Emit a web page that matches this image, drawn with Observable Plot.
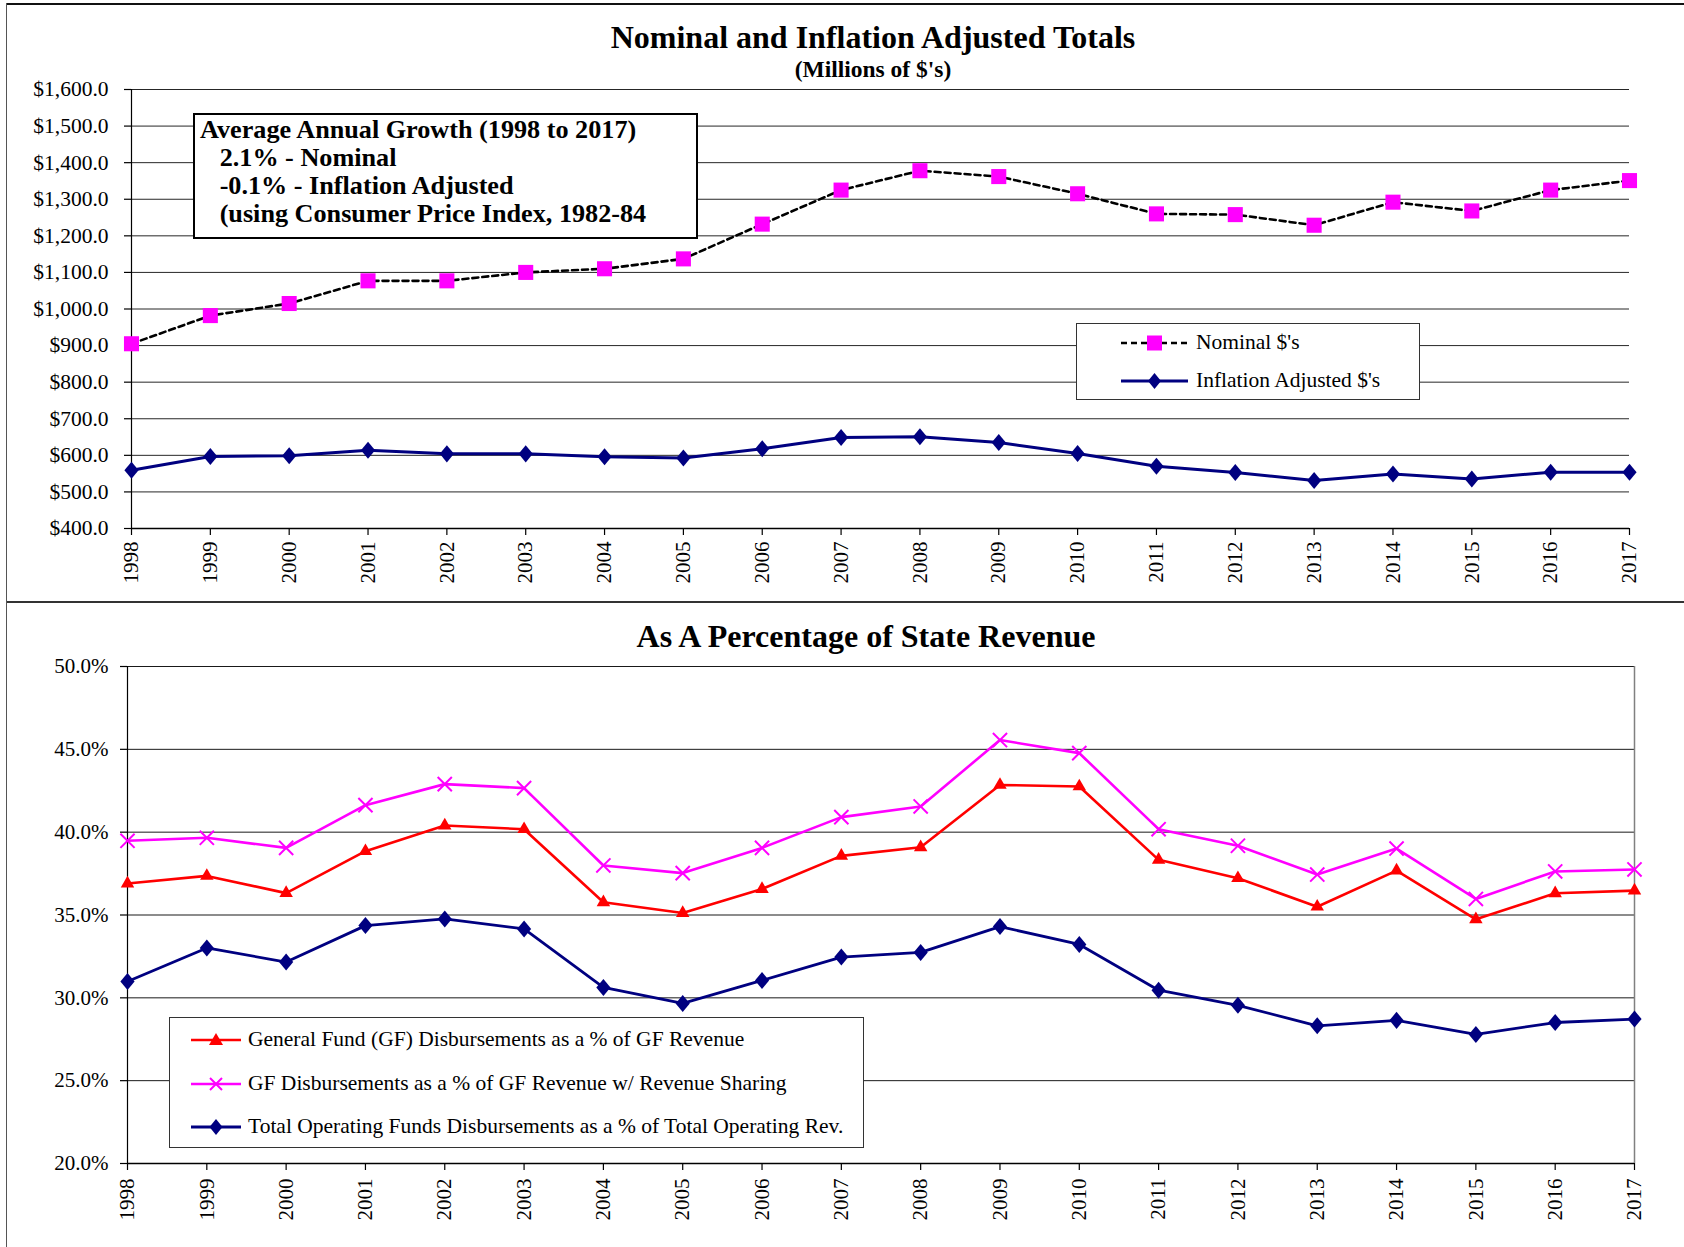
<!DOCTYPE html>
<html>
<head>
<meta charset="utf-8">
<script src="https://cdn.jsdelivr.net/npm/d3@7"></script>
<script src="https://cdn.jsdelivr.net/npm/@observablehq/plot@0.6"></script>
<style>
  body { margin: 0; background: #fff; }
  #page { position: relative; width: 1684px; height: 1247px; overflow: hidden; background: #fff;
          font-family: "Liberation Serif", "Times New Roman", serif; color: #000; }
  .abs { position: absolute; }
  .title { position: absolute; left: 0; text-align: center; font-weight: bold; white-space: nowrap; }
  .legend { position: absolute; background: #fff; border: 1px solid #333; box-sizing: border-box; }
  .entry { position: absolute; font-size: 21.5px; white-space: nowrap; line-height: 24px; }
  .note { position: absolute; background: #fff; border: 2px solid #000; box-sizing: border-box;
          font-weight: bold; font-size: 26.2px; line-height: 28px; white-space: pre; padding: 1px 0 0 5px; }
  svg.plot { position: absolute; left: 0; }
</style>
</head>
<body>
<div id="page"></div>
<script>
// ---------- data ----------
const years = [1998, 1999, 2000, 2001, 2002, 2003, 2004, 2005, 2006, 2007,
               2008, 2009, 2010, 2011, 2012, 2013, 2014, 2015, 2016, 2017];
const nominal = [905, 982, 1015, 1077, 1077, 1100, 1110, 1137, 1232, 1325,
                 1378, 1362, 1315, 1260, 1258, 1229, 1292, 1268, 1325, 1351];
const inflationAdjusted = [559, 597, 599, 614, 604, 604, 596, 593, 618, 649,
                           651, 635, 605, 570, 553, 531, 549, 535, 554, 554];
const gfPct = [36.90, 37.36, 36.32, 38.85, 40.40, 40.18, 35.77, 35.12, 36.57, 38.57,
               39.09, 42.85, 42.76, 38.33, 37.22, 35.50, 37.68, 34.74, 36.31, 36.47];
const gfRevSharingPct = [39.48, 39.66, 39.05, 41.63, 42.90, 42.66, 37.99, 37.53, 39.05, 40.91,
                         41.55, 45.56, 44.77, 40.18, 39.18, 37.44, 39.01, 35.97, 37.63, 37.75];
const totalOpPct = [30.99, 33.01, 32.16, 34.36, 34.76, 34.16, 30.63, 29.66, 31.05, 32.46,
                    32.74, 34.30, 33.22, 30.46, 29.55, 28.31, 28.64, 27.79, 28.51, 28.72];
const topYTicks = [400, 500, 600, 700, 800, 900, 1000, 1100, 1200, 1300, 1400, 1500, 1600];
const bottomYTicks = [20, 25, 30, 35, 40, 45, 50];

const topTitle = "Nominal and Inflation Adjusted Totals";
const topSubtitle = "(Millions of $'s)";
const bottomTitle = "As A Percentage of State Revenue";
const noteLines = ["Average Annual Growth (1998 to 2017)", "   2.1% - Nominal", "   -0.1% - Inflation Adjusted", "   (using Consumer Price Index, 1982-84"];
const topSeries = ["Nominal $'s", "Inflation Adjusted $'s"];
const bottomSeries = ["General Fund (GF) Disbursements as a % of GF Revenue",
                      "GF Disbursements as a % of GF Revenue w/ Revenue Sharing",
                      "Total Operating Funds Disbursements as a % of Total Operating Rev."];

const MAGENTA = "#FF00FF", NAVY = "#000080", RED = "#FF0000";
const FONT = "Liberation Serif, Times New Roman, serif";

// custom diamond a bit taller than wide
const diamondSym = {
  draw(ctx, size) {
    const a = Math.sqrt(size / 2.4), b = a * 1.2;
    ctx.moveTo(0, -b); ctx.lineTo(a, 0); ctx.lineTo(0, b); ctx.lineTo(-a, 0); ctx.closePath();
  }
};

const page = document.getElementById("page");

// ---------- top chart ----------
const topData = years.map((y, i) => ({year: y, nominal: nominal[i], adj: inflationAdjusted[i]}));
const topChart = Plot.plot({
  width: 1684, height: 602,
  marginLeft: 131, marginRight: 55, marginTop: 89, marginBottom: 74,
  style: {fontFamily: FONT, fontSize: "21px", color: "#000", background: "transparent", overflow: "visible"},
  x: {type: "linear", domain: [1998, 2017]},
  y: {type: "linear", domain: [400, 1600]},
  marks: [
    Plot.gridY(topYTicks, {stroke: "#000", strokeOpacity: 0.85, strokeWidth: 1}),
    Plot.axisY(topYTicks, {tickFormat: d => "$" + d3.format(",.1f")(d), tickSize: 7, tickPadding: 16,
                           label: null, fontSize: 21.5, fontFamily: FONT, strokeWidth: 1.2}),
    Plot.axisX(years, {tickFormat: d => String(d), tickRotate: -90, tickSize: 7, tickPadding: 6,
                       label: null, fontSize: 21, fontFamily: FONT, strokeWidth: 1.2}),
    Plot.ruleY([400], {stroke: "#000", strokeWidth: 1.5}),
    Plot.ruleX([1998], {stroke: "#000", strokeWidth: 1.2}),
    Plot.line(topData, {x: "year", y: "nominal", stroke: "#000", strokeWidth: 2.6, strokeDasharray: "6,4"}),
    Plot.dot(topData, {x: "year", y: "nominal", symbol: "square", fill: MAGENTA, stroke: "none", r: 8.5}),
    Plot.line(topData, {x: "year", y: "adj", stroke: NAVY, strokeWidth: 3}),
    Plot.dot(topData, {x: "year", y: "adj", symbol: diamondSym, fill: NAVY, stroke: "none", r: 6.2})
  ]
});
topChart.classList.add("plot");
topChart.style.top = "0px";
page.appendChild(topChart);

// ---------- bottom chart ----------
const bottomData = years.map((y, i) => ({year: y, gf: gfPct[i], gfrs: gfRevSharingPct[i], tot: totalOpPct[i]}));
const bottomChart = Plot.plot({
  width: 1684, height: 645,
  marginLeft: 127, marginRight: 50, marginTop: 64, marginBottom: 84,
  style: {fontFamily: FONT, fontSize: "21px", color: "#000", background: "transparent", overflow: "visible"},
  x: {type: "linear", domain: [1998, 2017]},
  y: {type: "linear", domain: [20, 50]},
  marks: [
    Plot.gridY(bottomYTicks, {stroke: "#000", strokeOpacity: 0.9, strokeWidth: 1}),
    Plot.ruleX([2017], {stroke: "#808080", strokeWidth: 1.5}),
    Plot.axisY(bottomYTicks, {tickFormat: d => d.toFixed(1) + "%", tickSize: 7, tickPadding: 12,
                              label: null, fontSize: 21, fontFamily: FONT, strokeWidth: 1.2}),
    Plot.axisX(years, {tickFormat: d => String(d), tickRotate: -90, tickSize: 7, tickPadding: 8,
                       label: null, fontSize: 21, fontFamily: FONT, strokeWidth: 1.2}),
    Plot.ruleY([20], {stroke: "#000", strokeWidth: 1.5}),
    Plot.ruleX([1998], {stroke: "#000", strokeWidth: 1.2}),
    Plot.line(bottomData, {x: "year", y: "gfrs", stroke: MAGENTA, strokeWidth: 2.6}),
    Plot.dot(bottomData, {x: "year", y: "gfrs", symbol: "times", stroke: MAGENTA, strokeWidth: 2, r: 6.5}),
    Plot.line(bottomData, {x: "year", y: "gf", stroke: RED, strokeWidth: 2.6}),
    Plot.dot(bottomData, {x: "year", y: "gf", symbol: "triangle", fill: RED, stroke: "none", r: 5}),
    Plot.line(bottomData, {x: "year", y: "tot", stroke: NAVY, strokeWidth: 2.8}),
    Plot.dot(bottomData, {x: "year", y: "tot", symbol: diamondSym, fill: NAVY, stroke: "none", r: 6.2})
  ]
});
bottomChart.classList.add("plot");
bottomChart.style.top = "602px";
page.appendChild(bottomChart);

// ---------- frame lines ----------
function box(l, t, w, h, bg) {
  const d = document.createElement("div");
  d.className = "abs";
  Object.assign(d.style, {left: l + "px", top: t + "px", width: w + "px", height: h + "px", background: bg});
  page.appendChild(d);
}
box(6, 3, 1678, 2, "#111");     // top border
box(6, 3, 1, 600, "#555");      // left border top panel
box(6, 601, 1678, 2, "#333");   // separator
box(6, 601, 1, 646, "#555");    // left border bottom panel

// ---------- titles ----------
function title(text, cx, cy, size) {
  const d = document.createElement("div");
  d.className = "title";
  d.textContent = text;
  Object.assign(d.style, {left: (cx - 600) + "px", width: "1200px",
                          top: (cy - size * 0.6) + "px", fontSize: size + "px", lineHeight: (size * 1.2) + "px"});
  page.appendChild(d);
}
title(topTitle, 873, 37, 32);
title(topSubtitle, 873, 69, 23.5);
title(bottomTitle, 866, 636, 32);

// ---------- note box ----------
const note = document.createElement("div");
note.className = "note";
Object.assign(note.style, {left: "193px", top: "113px", width: "505px", height: "126px"});
note.textContent = noteLines.join("\n");
page.appendChild(note);

// ---------- legends ----------
function legend(l, t, w, h, entries) {
  const lg = document.createElement("div");
  lg.className = "legend";
  Object.assign(lg.style, {left: l + "px", top: t + "px", width: w + "px", height: h + "px"});
  page.appendChild(lg);
  entries.forEach(e => {
    const s = `<svg class="abs" style="left:${e.sx - l}px;top:${e.cy - t - 10}px" width="${e.sw}" height="20">
      <line x1="0" x2="${e.sw}" y1="10" y2="10" stroke="${e.line}" stroke-width="${e.lw}" ${e.dash ? `stroke-dasharray="${e.dash}"` : ""}/>
      ${e.marker}</svg>`;
    lg.insertAdjacentHTML("beforeend", s);
    const tx = document.createElement("div");
    tx.className = "entry";
    tx.textContent = e.text;
    Object.assign(tx.style, {left: (e.tx - l) + "px", top: (e.cy - t - 13) + "px"});
    lg.appendChild(tx);
  });
}
const sq = c => `<rect x="${33.5 - 7.5}" y="2.5" width="15" height="15" fill="${c}"/>`;
const dia = (cx, c) => `<path d="M${cx},2 L${cx + 6.5},10 L${cx},18 L${cx - 6.5},10Z" fill="${c}"/>`;
const tri = (cx, c) => `<path d="M${cx},3 L${cx + 7},15 L${cx - 7},15Z" fill="${c}"/>`;
const tms = (cx, c) => `<path d="M${cx - 6},4 L${cx + 6},16 M${cx + 6},4 L${cx - 6},16" stroke="${c}" stroke-width="2"/>`;

legend(1076, 323, 344, 77, [
  {text: topSeries[0], sx: 1120, sw: 67, cy: 342, tx: 1195, line: "#000", lw: 2.6, dash: "6,4", marker: sq(MAGENTA)},
  {text: topSeries[1], sx: 1120, sw: 67, cy: 380, tx: 1195, line: NAVY, lw: 3, marker: dia(33.5, NAVY)}
]);
legend(169, 1017, 695, 131, [
  {text: bottomSeries[0], sx: 190, sw: 50, cy: 1039, tx: 247, line: RED, lw: 2.6, marker: tri(25, RED)},
  {text: bottomSeries[1], sx: 190, sw: 50, cy: 1083, tx: 247, line: MAGENTA, lw: 2.6, marker: tms(25, MAGENTA)},
  {text: bottomSeries[2], sx: 190, sw: 50, cy: 1126, tx: 247, line: NAVY, lw: 2.8, marker: dia(25, NAVY)}
]);
</script>
</body>
</html>
